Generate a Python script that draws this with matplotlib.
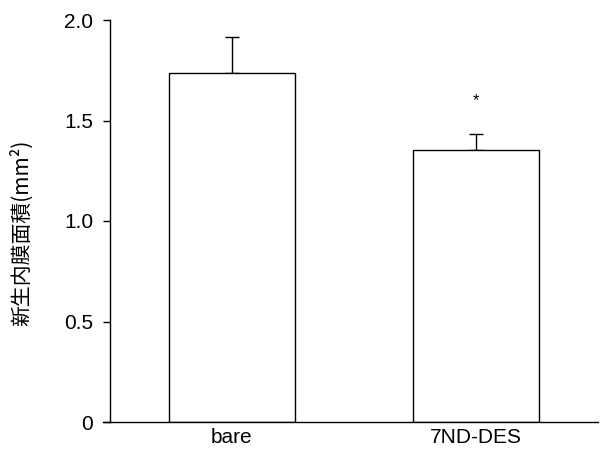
import matplotlib
matplotlib.use("Agg")
import matplotlib.pyplot as plt

# values
groups = ["bare", "7ND-DES"]
means = [1.735, 1.355]
sem_up = [0.18, 0.08]
sig_marks = ["", "*"]
sig_y = [None, 1.60]

yticks = [0, 0.5, 1.0, 1.5, 2.0]
ytick_labels = ["0", "0.5", "1.0", "1.5", "2.0"]
ylabel = "新生内膜面積(mm²)"

plt.rcParams["font.family"] = ["Liberation Sans", "DejaVu Sans"]

fig = plt.figure(figsize=(6.01, 4.59), dpi=100)
ax = fig.add_axes([110 / 601, 1 - 422 / 459, 488 / 601, 402 / 459])

x = list(range(len(groups)))
ax.bar(x, means, width=0.52, color="white", edgecolor="black", linewidth=1.0, zorder=2)
ax.errorbar(x, means, yerr=[[0] * len(x), sem_up], fmt="none", ecolor="black",
            elinewidth=1.0, capsize=4.7, capthick=1.0, zorder=1)
for xi, m, yy in zip(x, sig_marks, sig_y):
    if m:
        ax.text(xi, yy, m, ha="center", va="center", fontsize=12)

ax.set_xlim(-0.5, 1.5)
ax.set_ylim(0, 2.0)
ax.set_yticks(yticks)
ax.set_yticklabels(ytick_labels)
ax.set_xticks(x)
ax.set_xticklabels(groups)
ax.tick_params(axis="y", direction="out", length=5, width=1.0, pad=7, labelsize=15)
ax.tick_params(axis="x", length=0, pad=4, labelsize=15)
for s in ("top", "right"):
    ax.spines[s].set_visible(False)
ax.spines["left"].set_linewidth(1.0)
ax.spines["bottom"].set_linewidth(1.0)
# x axis line runs a little past the y axis on the left
ax.plot([-0.53, -0.5], [0, 0], color="black", lw=1.0, clip_on=False)

ax.set_ylabel(ylabel, fontsize=15, family=["Noto Sans CJK JP", "DejaVu Sans"])
ax.yaxis.set_label_coords(-0.158, 0.47)

fig.savefig("out.png", dpi=100)
